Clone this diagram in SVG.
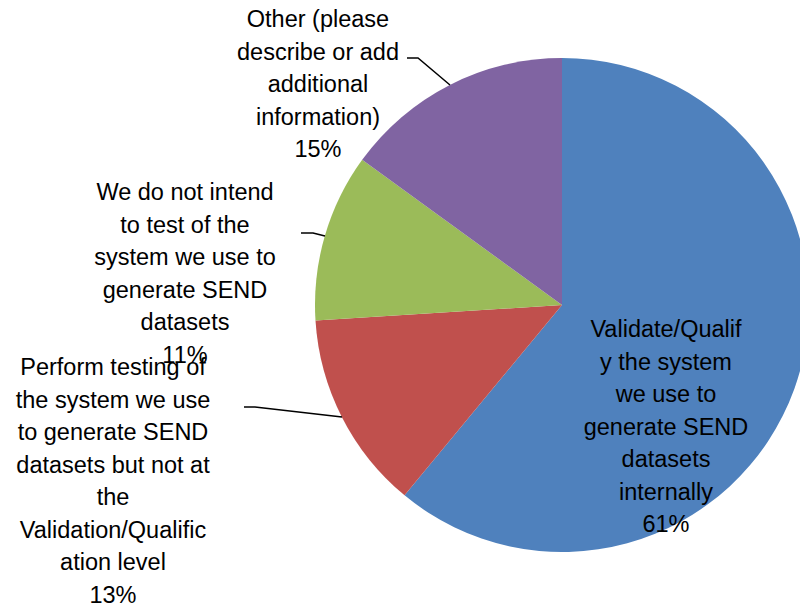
<svg xmlns="http://www.w3.org/2000/svg" width="800" height="608" viewBox="0 0 800 608">
<style>
.lbl{font-family:"Liberation Sans",Arial,sans-serif;font-size:23.5px;fill:#000;text-anchor:middle}
.lead{fill:none;stroke:#000;stroke-width:1.5}
</style>
<rect width="800" height="608" fill="#fff"/>
<g id="slices">
<path id="slice-validate" d="M562,305 L562,58 A247,247 0 1,1 404.56,495.31 Z" fill="#4F81BD"/>
<path id="slice-perform" d="M562,305 L404.56,495.31 A247,247 0 0,1 315.49,320.51 Z" fill="#C0504D"/>
<path id="slice-notintend" d="M562,305 L315.49,320.51 A247,247 0 0,1 362.17,159.82 Z" fill="#9BBB59"/>
<path id="slice-other" d="M562,305 L362.17,159.82 A247,247 0 0,1 562,58 Z" fill="#8064A2"/>
</g>
<g id="connectors">
<polyline class="lead" points="407,58 418,58 450,85"/>
<polyline class="lead" points="301,233 313,233 325,236"/>
<polyline class="lead" points="244,407 255,407 342,417"/>
</g>
<g id="label-other">
<text class="lbl" x="318" y="27">Other (please</text>
<text class="lbl" x="318" y="59.5">describe or add</text>
<text class="lbl" x="318" y="92">additional</text>
<text class="lbl" x="318" y="124.5">information)</text>
<text class="lbl" x="318" y="157">15%</text>
</g>
<g id="label-notintend">
<text class="lbl" x="185" y="200">We do not intend</text>
<text class="lbl" x="185" y="232.5">to test of the</text>
<text class="lbl" x="185" y="265">system we use to</text>
<text class="lbl" x="185" y="297.5">generate SEND</text>
<text class="lbl" x="185" y="330">datasets</text>
<text class="lbl" x="185" y="362.5">11%</text>
</g>
<g id="label-perform">
<text class="lbl" x="113" y="375">Perform testing of</text>
<text class="lbl" x="113" y="407.5">the system we use</text>
<text class="lbl" x="113" y="440">to generate SEND</text>
<text class="lbl" x="113" y="472.5">datasets but not at</text>
<text class="lbl" x="113" y="505">the</text>
<text class="lbl" x="113" y="537.5">Validation/Qualific</text>
<text class="lbl" x="113" y="570">ation level</text>
<text class="lbl" x="113" y="602.5">13%</text>
</g>
<g id="label-validate">
<text class="lbl" x="666" y="337">Validate/Qualif</text>
<text class="lbl" x="666" y="369.5">y the system</text>
<text class="lbl" x="666" y="402">we use to</text>
<text class="lbl" x="666" y="434.5">generate SEND</text>
<text class="lbl" x="666" y="467">datasets</text>
<text class="lbl" x="666" y="499.5">internally</text>
<text class="lbl" x="666" y="532">61%</text>
</g>
</svg>
